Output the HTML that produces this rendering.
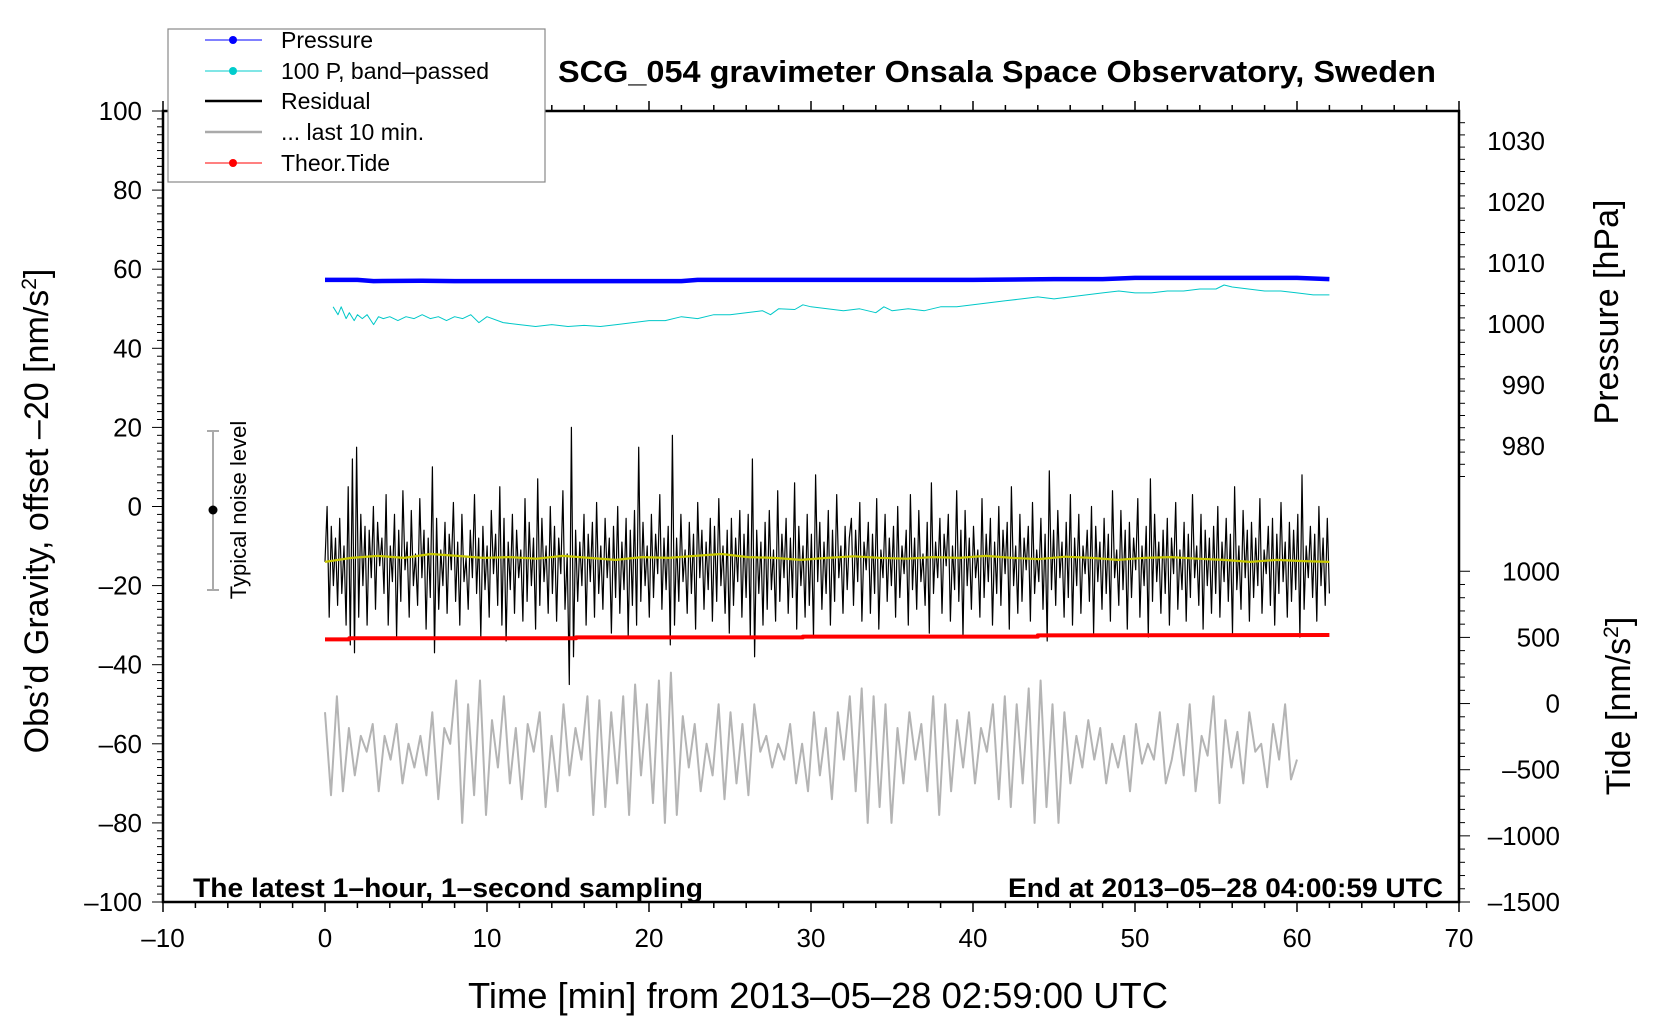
<!DOCTYPE html>
<html><head><meta charset="utf-8"><style>
html,body{margin:0;padding:0;background:#fff;}
svg{display:block;font-family:"Liberation Sans",sans-serif;}
</style></head><body>
<svg id="chart" width="1660" height="1020" viewBox="0 0 1660 1020" xmlns="http://www.w3.org/2000/svg">
<rect width="1660" height="1020" fill="#fff"/>
<g id="marks"></g>
<g id="axes"></g>
<rect x="163" y="111" width="1296" height="791" fill="none" stroke="#000" stroke-width="2.5"/>
<text x="997" y="82" font-size="31" font-weight="bold" text-anchor="middle" textLength="878" lengthAdjust="spacingAndGlyphs">SCG_054 gravimeter Onsala Space Observatory, Sweden</text>
<text x="193" y="897" font-size="27" font-weight="bold" textLength="510" lengthAdjust="spacingAndGlyphs">The latest 1–hour, 1–second sampling</text>
<text x="1443" y="897" font-size="27" font-weight="bold" text-anchor="end" textLength="435" lengthAdjust="spacingAndGlyphs">End at 2013–05–28 04:00:59 UTC</text>
<text x="818" y="1008" font-size="36" text-anchor="middle" textLength="700" lengthAdjust="spacingAndGlyphs">Time [min] from 2013–05–28 02:59:00 UTC</text>
<text transform="translate(48,511) rotate(-90)" font-size="34" text-anchor="middle">Obs’d Gravity, offset –20 [nm/s<tspan font-size="21" dy="-12">2</tspan><tspan dy="12">]</tspan></text>
<text transform="translate(1618,312) rotate(-90)" font-size="34" text-anchor="middle">Pressure [hPa]</text>
<text transform="translate(1630,706) rotate(-90)" font-size="34" text-anchor="middle">Tide [nm/s<tspan font-size="21" dy="-12">2</tspan><tspan dy="12">]</tspan></text>
<g>
<rect x="168" y="29" width="377" height="153" fill="#fff" stroke="#888" stroke-width="1.2"/>
<line x1="205" y1="40" x2="262" y2="40" stroke="#00f" stroke-width="1"/><circle cx="233" cy="40" r="4" fill="#00f"/>
<text x="281" y="48" font-size="23">Pressure</text>
<line x1="205" y1="71" x2="262" y2="71" stroke="#0cc" stroke-width="1"/><circle cx="233" cy="71" r="4" fill="#0cc"/>
<text x="281" y="79" font-size="23">100 P, band–passed</text>
<line x1="205" y1="101" x2="262" y2="101" stroke="#000" stroke-width="2.5"/>
<text x="281" y="109" font-size="23">Residual</text>
<line x1="205" y1="132" x2="262" y2="132" stroke="#aaa" stroke-width="2.5"/>
<text x="281" y="140" font-size="23">... last 10 min.</text>
<line x1="205" y1="163" x2="262" y2="163" stroke="#f00" stroke-width="1"/><circle cx="233" cy="163" r="4" fill="#f00"/>
<text x="281" y="171" font-size="23">Theor.Tide</text>
</g>
<g>
<line x1="213" y1="431" x2="213" y2="590" stroke="#aaa" stroke-width="2"/>
<line x1="207" y1="431" x2="219" y2="431" stroke="#aaa" stroke-width="2"/>
<line x1="207" y1="590" x2="219" y2="590" stroke="#aaa" stroke-width="2"/>
<circle cx="213" cy="510" r="4.5" fill="#000"/>
<text transform="translate(246,510) rotate(-90)" font-size="22" text-anchor="middle">Typical noise level</text>
</g>
</svg>
<script>
const pressT=[0,2,3,6,8,15,22,23,30,40,45,48,50,55,60,62];
const pressV=[57.3,57.3,57.0,57.1,57.0,57.0,57.0,57.3,57.3,57.3,57.5,57.5,57.8,57.8,57.8,57.5];
const bandT=[0.5,0.8,1,1.3,1.5,1.8,2,2.3,2.6,3,3.3,3.6,4,4.5,5,5.5,6,6.5,7,7.5,8,8.5,9,9.5,10,11,12,13,14,15,16,17,18,19,20,21,22,23,24,25,26,27,27.5,28,29,29.5,30,31,32,33,34,34.5,35,36,37,38,39,40,41,42,43,44,45,46,47,48,49,50,51,52,53,54,55,55.5,56,57,58,59,60,61,62];
const bandV=[50.5,48.5,50.5,47.5,49,47,48.5,47.5,48.5,46,48,47.5,48,47,48,47.5,48.5,47.5,48,47,48,47.5,48.5,46.5,48,46.5,46,45.5,46,45.5,45.8,45.5,46,46.5,47,47,48,47.5,48.5,48.5,49,49.5,48.5,50,49.8,51,50.5,50,49.5,50,49,50.5,49.5,50,49.5,50.5,50.5,51,51.5,52,52.5,53,52.5,53,53.5,54,54.5,54,54,54.5,54.5,55,55,56,55.5,55,54.5,54.5,54,53.5,53.5];
const residV=[-14,0,-28,-5,-20,-8,-25,-3,-22,-10,-30,5,-35,12,-37,15,-28,-2,-20,-5,-30,-6,-18,0,-26,-4,-15,-8,-22,3,-30,-10,-19,-2,-33,-6,-24,4,-16,-9,-28,-1,-20,-12,-25,2,-18,-6,-31,-8,-23,10,-37,-3,-26,-11,-20,-4,-27,-7,-16,1,-24,-9,-30,-2,-19,-13,-26,-6,-18,3,-22,-8,-33,-5,-21,-10,-28,-1,-17,-7,-25,5,-30,-3,-34,-9,-21,-2,-27,-6,-18,-11,-29,2,-24,-4,-20,-8,-31,7,-25,-3,-19,-10,-27,0,-22,-5,-29,-8,-17,4,-26,-12,-45,20,-38,-6,-24,-9,-20,-2,-30,-7,-19,-4,-28,1,-22,-10,-26,-3,-18,-8,-32,-5,-23,0,-27,-9,-21,-3,-33,-6,-25,-1,-30,15,-24,-4,-20,-10,-28,-2,-23,-7,-17,3,-26,-8,-21,-5,-35,18,-30,-8,-24,-2,-19,-11,-27,-4,-22,-7,-31,1,-18,-6,-26,-9,-21,-3,-29,-5,-24,2,-20,-10,-27,-6,-32,-3,-25,-8,-19,-1,-28,-7,-23,-2,-33,12,-38,-6,-22,-9,-30,-4,-26,-1,-21,-11,-29,4,-24,-7,-18,-3,-27,-8,-23,6,-31,-5,-20,-10,-28,-2,-25,-7,-33,8,-19,-4,-26,-9,-22,-1,-30,-6,-24,3,-18,-10,-27,-5,-21,-8,
-3,-25,-6,-19,1,-29,-9,-16,-4,-27,-7,-22,2,-31,-11,-18,-2,-24,-8,-20,-5,-28,0,-23,-10,-17,-6,-30,3,-21,-8,-26,-1,-19,-12,-25,-4,-32,6,-22,-9,-18,-3,-27,-7,-15,-2,-29,-10,-21,4,-24,-6,-33,-1,-20,-8,-26,-5,-18,-11,-28,2,-23,-7,-19,-3,-30,-9,-22,0,-25,-6,-17,-4,-31,5,-20,-10,-27,-2,-24,-8,-16,-5,-29,1,-22,-11,-19,-3,-26,-7,-34,9,-21,-6,-25,-1,-18,-9,-28,-4,-23,3,-30,-8,-20,-2,-27,-10,-17,-6,-24,0,-32,-5,-19,-9,-26,-3,-22,-7,-29,4,-18,-11,-25,-1,-21,-6,-31,-4,-23,-8,-16,2,-28,-10,-20,-5,-33,7,-24,-2,-19,-9,-27,-6,-22,-3,-30,-8,-17,1,-26,-11,-21,-4,-29,-7,-23,3,-18,-10,-25,-2,-31,-6,-20,-8,-27,-5,-22,0,-28,-9,-19,-3,-24,-7,-32,5,-21,-10,-26,-1,-18,-6,-29,-4,-23,-8,-20,2,-27,-11,-17,-5,-25,-3,-30,-7,-22,1,-19,-9,-28,-4,-24,-6,-21,-2,-33,8,-26,-10,-18,-5,-23,-7,-29,0,-20,-8,-25,-3,-22];
const yellowV=[-14,-13,-12.5,-13,-12,-12.5,-13,-12.8,-13.2,-12.5,-13,-13.5,-12.8,-13,-12.5,-12,-12.8,-13,-13.5,-13,-12.6,-13,-13.2,-12.8,-13,-12.5,-13,-13.3,-12.7,-13,-13.5,-13,-12.8,-13.2,-13.5,-14,-13.5,-13.8,-14];
const tideT=[0,1.5,1.5,15.5,15.5,29.5,29.5,44,44,62];
const tideV=[-33.6,-33.6,-33.3,-33.3,-33.1,-33.1,-32.9,-32.9,-32.6,-32.5];
const grayV=[-52,-73,-48,-72,-56,-68,-58,-62,-55,-72,-58,-64,-55,-70,-60,-66,-58,-68,-52,-74,-56,-60,-44,-80,-50,-73,-44,-78,-54,-66,-48,-70,-56,-74,-55,-62,-52,-76,-58,-72,-50,-68,-56,-64,-48,-78,-49,-76,-52,-70,-48,-78,-45,-68,-50,-75,-44,-80,-42,-78,-53,-66,-55,-72,-60,-68,-50,-74,-52,-70,-55,-73,-50,-62,-58,-66,-60,-64,-55,-70,-60,-72,-52,-68,-56,-74,-52,-64,-48,-72,-46,-80,-48,-76,-50,-80,-56,-70,-52,-64,-55,-72,-48,-78,-50,-72,-54,-66,-52,-70,-56,-62,-50,-74,-48,-76,-50,-70,-46,-80,-44,-76,-50,-80,-52,-70,-58,-66,-54,-64,-56,-70,-60,-66,-58,-72,-55,-65,-60,-64,-52,-70,-64,-55,-68,-50,-72,-58,-63,-48,-75,-54,-66,-57,-70,-52,-62,-60,-71,-55,-64,-50,-69,-64];
const xTicks=[-10,0,10,20,30,40,50,60,70];
const yTicks=[100,80,60,40,20,0,-20,-40,-60,-80,-100];
const pTicks=[1030,1020,1010,1000,990,980];
const tTicks=[1000,500,0,-500,-1000,-1500];

const X=t=>163+(t+10)*1296/80;
const Y=v=>111+(100-v)*791/200;
const P=p=>141+(1030-p)*6.1;
const T=v=>902-(v+1500)*0.1323;
const NS='http://www.w3.org/2000/svg';
const marks=document.getElementById('marks'), axes=document.getElementById('axes');
function el(tag,attrs,parent){const e=document.createElementNS(NS,tag);for(const k in attrs)e.setAttribute(k,attrs[k]);parent.appendChild(e);return e;}
function poly(ts,vs,color,w,name){
  const pts=ts.map((t,i)=>X(t).toFixed(1)+','+Y(vs[i]).toFixed(1)).join(' ');
  const e=el('polyline',{points:pts,fill:'none',stroke:color,'stroke-width':w,'stroke-linejoin':'round'},marks);
  
  
}
const lin=(n,a,b)=>Array.from({length:n},(_,i)=>a+(b-a)*i/(n-1));
poly(lin(grayV.length,0,60),grayV,'#b4b4b4',2,'last-10-min-line');
poly(lin(residV.length,0,62),residV,'#000',1.2,'residual-line');
poly(lin(yellowV.length,0,62),yellowV,'#c8c800',2.2,'residual-smoothed-line');
poly(tideT,tideV,'#f00',4,'theor-tide-line');
poly(bandT,bandV,'#00c8c8',1,'pressure-bandpassed-line');
poly(pressT,pressV,'#00f',4.5,'pressure-line');

function txt(x,y,s,anchor,name){const e=el('text',{x:x,y:y,'font-size':26,'text-anchor':anchor},axes);e.textContent=String(s).replace('-','–');
  
  }
for(let t=-10;t<=70;t+=2){const x=X(t);const major=t%10===0;
  el('line',{x1:x,y1:902,x2:x,y2:major?912:908,stroke:'#000','stroke-width':1.5},axes);
  el('line',{x1:x,y1:111,x2:x,y2:major?101:105,stroke:'#000','stroke-width':1.5},axes);}
xTicks.forEach(t=>txt(X(t),947,t,'middle','x-tick-label'));
for(let v=-100;v<=100;v+=2){const y=Y(v);const major=v%20===0;
  el('line',{x1:163,y1:y,x2:major?152:157,y2:y,stroke:'#000','stroke-width':1},axes);}
yTicks.forEach(v=>txt(142,Y(v)+9,v,'end','y-tick-label'));
for(let p=975;p<=1035;p+=2){const y=P(p);if(y<111)continue;
  el('line',{x1:1459,y1:y,x2:p%10===0?1470:1465,y2:y,stroke:'#000','stroke-width':1},axes);}
pTicks.forEach(p=>txt(1545,P(p)+9,p,'end','pressure-tick-label'));
for(let v=-1500;v<=1000;v+=100){const y=T(v);
  el('line',{x1:1459,y1:y,x2:v%500===0?1470:1465,y2:y,stroke:'#000','stroke-width':1},axes);}
tTicks.forEach(v=>txt(1560,T(v)+9,v,'end','tide-tick-label'));
</script>
</body></html>
